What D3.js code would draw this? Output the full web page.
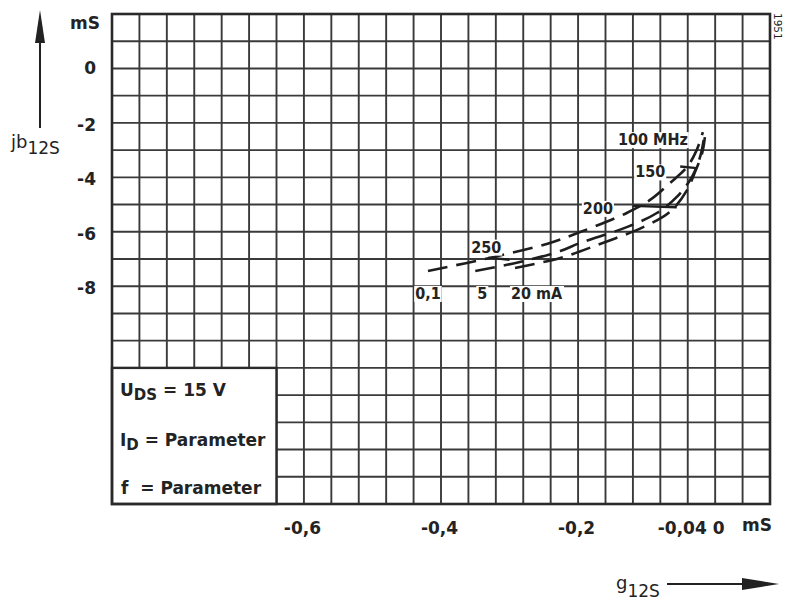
<!DOCTYPE html>
<html>
<head>
<meta charset="utf-8">
<script src="https://cdn.jsdelivr.net/npm/d3@7"></script>
<style>
  html, body { margin: 0; padding: 0; background: #fff; }
  svg text { font-family: "DejaVu Sans", sans-serif; font-weight: bold; fill: #232323; }
  svg .cond { font-family: "DejaVu Sans Condensed", "DejaVu Sans", sans-serif; }
</style>
</head>
<body>
<div id="chart"></div>
<script>
// g12S (mS) vs jb12S (mS), U_DS = 15 V, parameter I_D and f
const currentLabels = ["0,1", "5", "20 mA"];

// each curve: [g12S, b12S] from low-left end up to 100 MHz end
const curve01 = [[-0.419, -7.44], [-0.329, -6.96], [-0.241, -6.41], [-0.197, -6.01], [-0.129, -5.31],
  [-0.095, -4.83], [-0.066, -4.21], [-0.041, -3.62], [-0.027, -3.00], [-0.018, -2.34]];
const curve5 = [[-0.350, -7.44], [-0.285, -7.11], [-0.226, -6.71], [-0.197, -6.41], [-0.129, -5.83],
  [-0.085, -5.31], [-0.056, -4.72], [-0.034, -3.99], [-0.022, -3.25], [-0.016, -2.52]];
const curve20 = [[-0.292, -7.33], [-0.226, -6.96], [-0.164, -6.41], [-0.105, -5.83], [-0.066, -5.27],
  [-0.041, -4.47], [-0.030, -3.84], [-0.019, -3.11], [-0.015, -2.52]];

// frequency marks across the curves (MHz)
const freqLabels = ["250", "200", "150"];
const freqMarks = [
  [[-0.331, -6.95], [-0.300, -7.03]],
  [[-0.120, -5.05], [-0.056, -5.10]],
  [[-0.051, -3.60], [-0.027, -3.66]]
];

const xTicks = [-0.6, -0.4, -0.2, -0.04, 0];
const xTickLabels = ["-0,6", "-0,4", "-0,2", "-0,04", "0"];
const yTicks = [0, -2, -4, -6, -8];
const yTickLabels = ["0", "-2", "-4", "-6", "-8"];

const W = 792, H = 600;
const svg = d3.select("#chart").append("svg").attr("width", W).attr("height", H);

const x = d3.scaleLinear().domain([-0.88, 0.08]).range([112, 770]);
const y = d3.scaleLinear().domain([2, -16]).range([14, 504]);

const gridColor = "#3a3a3a";

// grid, one line per 0.04 mS and per 1 mS
const grid = svg.append("g");
grid.selectAll(".vl").data(d3.range(25).map(i => -0.88 + i * 0.04)).join("line")
  .attr("x1", d => x(d)).attr("x2", d => x(d))
  .attr("y1", y(2)).attr("y2", y(-16))
  .attr("stroke", gridColor).attr("stroke-width", 1.9);
grid.selectAll(".hl").data(d3.range(19).map(i => 2 - i)).join("line")
  .attr("y1", d => y(d)).attr("y2", d => y(d))
  .attr("x1", x(-0.88)).attr("x2", x(0.08))
  .attr("stroke", gridColor).attr("stroke-width", 1.9);

// legend box (covers grid)
svg.append("rect")
  .attr("x", x(-0.88)).attr("y", y(-11))
  .attr("width", x(-0.64) - x(-0.88)).attr("height", y(-16) - y(-11))
  .attr("fill", "#fff").attr("stroke", "#2a2a2a").attr("stroke-width", 2.4);

// outer frame
svg.append("rect")
  .attr("x", x(-0.88)).attr("y", y(2))
  .attr("width", x(0.08) - x(-0.88)).attr("height", y(-16) - y(2))
  .attr("fill", "none").attr("stroke", "#2a2a2a").attr("stroke-width", 2.6);

const legend = svg.append("g").style("font-size", "17px");
const l1 = legend.append("text").attr("x", 120).attr("y", 396);
l1.append("tspan").text("U");
l1.append("tspan").attr("dy", 4).style("font-size", "15px").text("DS");
l1.append("tspan").attr("dy", -4).text(" = 15 V");
const l2 = legend.append("text").attr("x", 120).attr("y", 446);
l2.append("tspan").text("I");
l2.append("tspan").attr("dy", 4).style("font-size", "15px").text("D");
l2.append("tspan").attr("dy", -4).text(" = Parameter");
legend.append("text").attr("x", 121).attr("y", 494).attr("xml:space", "preserve").text("f  = Parameter");

// axes labels via d3 axes
const xAxis = d3.axisBottom(x).tickValues(xTicks).tickSize(0)
  .tickFormat((d, i) => xTickLabels[i]);
const gx = svg.append("g").attr("transform", `translate(0,${y(-16) + 15})`).call(xAxis);
gx.select(".domain").remove();
gx.selectAll("text").attr("fill", "#232323").style("font-size", "17px")
  .attr("font-family", null)
  .attr("dx", (d, i) => (d === 0 ? 3 : d === -0.04 ? -6 : -2));

const yAxis = d3.axisLeft(y).tickValues(yTicks).tickSize(0)
  .tickFormat((d, i) => yTickLabels[i]);
const gy = svg.append("g").attr("transform", `translate(${x(-0.88) - 13},0)`).call(yAxis);
gy.select(".domain").remove();
gy.selectAll("text").attr("fill", "#232323").style("font-size", "17px")
  .attr("font-family", null)
  .attr("dy", d => (d === 0 ? "0.32em" : "0.45em"));

// units
svg.append("text").attr("x", 100).attr("y", 29).attr("text-anchor", "end")
  .style("font-size", "17px").text("mS");
svg.append("text").attr("x", 757).attr("y", y(-16) + 27).attr("text-anchor", "middle")
  .style("font-size", "17px").text("mS");

// axis titles with arrows
const yt = svg.append("text").attr("x", 11).attr("y", 148)
  .style("font-size", "18px").style("font-weight", "normal");
yt.append("tspan").text("jb");
yt.append("tspan").attr("dy", 6).style("font-size", "17px").text("12S");
svg.append("line").attr("x1", 40).attr("x2", 40).attr("y1", 128).attr("y2", 36)
  .attr("stroke", "#222").attr("stroke-width", 2);
svg.append("path").attr("d", "M40,10 L35,43 L45,43 Z").attr("fill", "#222");

const xt = svg.append("text").attr("x", 616).attr("y", 589)
  .style("font-size", "18px").style("font-weight", "normal");
xt.append("tspan").text("g");
xt.append("tspan").attr("dy", 8).style("font-size", "17px").text("12S");
svg.append("line").attr("x1", 667).attr("x2", 748).attr("y1", 584).attr("y2", 584)
  .attr("stroke", "#222").attr("stroke-width", 2);
svg.append("path").attr("d", "M779,584 L742,578 L742,590 Z").attr("fill", "#222");

// figure number
svg.append("text").attr("transform", "translate(774,13) rotate(90)")
  .style("font-size", "10.5px").style("font-weight", "normal").text("1951");

// curves
const line = d3.line().x(d => x(d[0])).y(d => y(d[1])).curve(d3.curveCatmullRom.alpha(0.5));
const curves = [curve01, curve5, curve20];
svg.append("g").selectAll("path").data(curves).join("path")
  .attr("d", line)
  .attr("fill", "none").attr("stroke", "#1e1e1e").attr("stroke-width", 2.6)
  .attr("stroke-dasharray", "20,9");

svg.append("g").selectAll("path").data(freqMarks).join("path")
  .attr("d", d3.line().x(d => x(d[0])).y(d => y(d[1])))
  .attr("fill", "none").attr("stroke", "#1e1e1e").attr("stroke-width", 2.4);

// labels with white knock-out behind them
const labels = svg.append("g").attr("class", "cond").style("font-size", "16px");
function knockLabel(px, py, txt, anchor) {
  const t = labels.append("text").attr("class", "cond").attr("x", px).attr("y", py)
    .attr("text-anchor", anchor).text(txt);
  const b = t.node().getBBox();
  labels.insert("rect", "text").attr("x", b.x - 1).attr("y", b.y + 2)
    .attr("width", b.width + 2).attr("height", b.height - 3).attr("fill", "#fff");
}
const topEnd = curve01[curve01.length - 1];
knockLabel(x(topEnd[0]) - 15, y(topEnd[1]) + 13, "100 MHz", "end");
knockLabel(x(freqMarks[2][0][0]) - 15, y(freqMarks[2][0][1]) + 11, freqLabels[2], "end");
knockLabel(x(freqMarks[1][0][0]) - 20, y(freqMarks[1][0][1]) + 8, freqLabels[1], "end");
knockLabel(x(freqMarks[0][0][0]) - 2, y(freqMarks[0][0][1]) - 5, freqLabels[0], "middle");

const starts = curves.map(c => c[0]);
knockLabel(x(starts[0][0]), 299, currentLabels[0], "middle");
knockLabel(x(starts[1][0]) + 7, 299, currentLabels[1], "middle");
knockLabel(x(starts[2][0]) - 4, 299, currentLabels[2], "start");
</script>
</body>
</html>
